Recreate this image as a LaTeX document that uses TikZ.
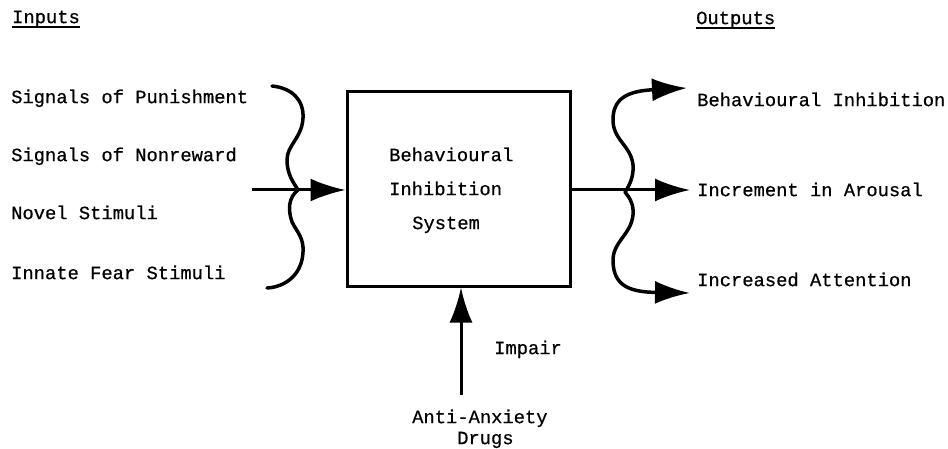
\documentclass[tikz,border=0pt]{standalone}
\usepackage{fontspec}
\setmainfont{Liberation Mono}[BoldFont={Liberation Mono},BoldFeatures={FakeBold=0.6}]
\usetikzlibrary{arrows.meta,calc}
\begin{document}
\begin{tikzpicture}[x=1pt,y=-1pt,
  lbl/.style={inner sep=0pt,anchor=mid west,yshift=-3.5pt,font=\fontsize{18.8}{22}\selectfont\bfseries},
  bigarrow/.style={line width=3pt,-{Latex[length=35pt,width=23pt]}},
  bracepath/.style={line width=3.5pt,line cap=round},
  boxstyle/.style={draw,line width=3pt,minimum width=223pt,minimum height=194pt,inner sep=0pt}]
\useasboundingbox (0,0) rectangle (948,449);
% headings
\node[lbl] (inputs) at (12,17) {Inputs};
\node[lbl] (outputs) at (696,18) {Outputs};
\draw[line width=1.6pt] ([yshift=-4pt]inputs.base west) -- ([yshift=-4pt]inputs.base east);
\draw[line width=1.6pt] ([yshift=-4pt]outputs.base west) -- ([yshift=-4pt]outputs.base east);
% inputs
\node[lbl] (pun) at (11,97) {Signals of Punishment};
\node[lbl] (nonrew) at (11,155) {Signals of Nonreward};
\node[lbl] (novel) at (11,213) {Novel Stimuli};
\node[lbl] (innate) at (11,273) {Innate Fear Stimuli};
% box
\node[boxstyle] (bis) at (458.5,189) {};
\node[lbl] (b1) at (389,155) {Behavioural};
\node[lbl] (b2) at (389,189) {Inhibition};
\node[lbl] (b3) at (412,223) {System};
% outputs
\node[lbl] (o1) at (697,100) {Behavioural Inhibition};
\node[lbl] (o2) at (697,190) {Increment in Arousal};
\node[lbl] (o3) at (697,280) {Increased Attention};
% bottom
\node[lbl] (impair) at (494,348) {Impair};
\node[lbl] (anti) at (412,417) {Anti-Anxiety};
\node[lbl] (drugs) at (457,438) {Drugs};
% coordinates
\coordinate (inStart) at (252,190);
\coordinate (outTip) at (690,190);
\coordinate (drugTop) at (461,395);
% left brace
\draw[bracepath] (272,86) .. controls (292,88) and (304,100) .. (303,118)
  .. controls (302,138) and (287,145) .. (287,160)
  .. controls (287,175) and (294,183) .. (298,190)
  .. controls (288,198) and (288,210) .. (292,222)
  .. controls (297,232) and (304,238) .. (303,252)
  .. controls (302,275) and (285,287) .. (267,288);
% input arrow
\draw[bigarrow] (inStart) -- (inStart -| bis.west);
% output arrow
\draw[bigarrow] (bis.east |- outTip) -- (outTip);
% right brace with arrow ends
\draw[bracepath,-{Latex[length=35pt,width=23pt]}] (625,192) .. controls (630,185) and (634,175) .. (633,165)
  .. controls (631,145) and (612,140) .. (613,118)
  .. controls (614,98) and (628,91) .. (687,88);
\draw[bracepath,-{Latex[length=35pt,width=23pt]}] (625,192) .. controls (630,198) and (634,205) .. (633,215)
  .. controls (631,235) and (612,242) .. (613,262)
  .. controls (614,285) and (628,292) .. (690,293);
% impair arrow
\draw[bigarrow] (drugTop) -- (drugTop |- bis.south);
\end{tikzpicture}
\end{document}
